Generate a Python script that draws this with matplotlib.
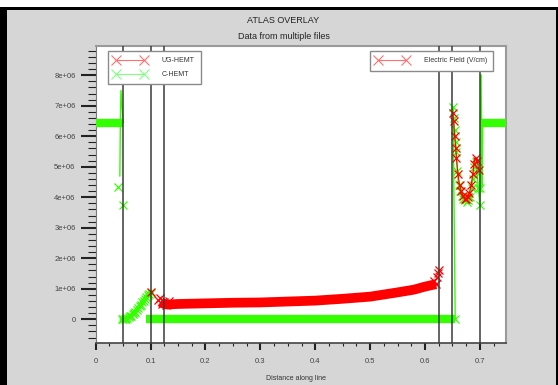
import matplotlib
matplotlib.use('Agg')
import matplotlib.pyplot as plt
from matplotlib.lines import Line2D
from matplotlib.patches import Rectangle
from matplotlib.ticker import MultipleLocator, FixedLocator, FuncFormatter

plt.rcParams['font.family'] = ['Liberation Sans', 'DejaVu Sans']

# ---------------------------------------------------------------------------
# Data (Electric field, V/cm, vs distance along line)
# ---------------------------------------------------------------------------
# region boundaries (black vertical lines)
boundaries = [0.05, 0.1, 0.125, 0.625, 0.65, 0.7]

# C-HEMT (green) -- dense plateaus drawn as bands
c_band1_x = [0.0, 0.01, 0.02, 0.03, 0.04, 0.05]
c_band1_y = [6.45e6, 6.45e6, 6.45e6, 6.45e6, 6.45e6, 6.45e6]
c_drop_x = [0.05, 0.046, 0.045, 0.044]
c_drop_y = [6.45e6, 7.5e6, 6.6e6, 4.7e6]
c_drop_mark_x = [0.041, 0.05]
c_drop_mark_y = [4.33e6, 3.74e6]
c_rise_x = [0.048, 0.05, 0.0525, 0.055, 0.0575, 0.06, 0.0625, 0.065, 0.0675,
            0.07, 0.0725, 0.075, 0.0775, 0.08, 0.0825, 0.085, 0.0875, 0.09,
            0.0925, 0.095, 0.0975, 0.1]
c_rise_y = [0.0, 0.0, 0.01e6, 0.02e6, 0.04e6, 0.06e6, 0.09e6, 0.12e6, 0.16e6,
            0.2e6, 0.25e6, 0.3e6, 0.36e6, 0.42e6, 0.48e6, 0.55e6, 0.61e6,
            0.67e6, 0.73e6, 0.78e6, 0.83e6, 0.87e6]
c_band2_x = [0.092, 0.1, 0.15, 0.2, 0.25, 0.3, 0.35, 0.4, 0.45, 0.5, 0.55,
             0.6, 0.65, 0.655]
c_band2_y = [0.0, 0.0, 0.0, 0.0, 0.0, 0.0, 0.0, 0.0, 0.0, 0.0, 0.0, 0.0, 0.0, 0.0]
c_right_x = [0.655, 0.651, 0.652, 0.654, 0.656, 0.657, 0.659, 0.661, 0.664,
             0.667, 0.67, 0.673, 0.676, 0.679, 0.682, 0.685, 0.687, 0.689,
             0.692, 0.695, 0.697, 0.7, 0.7, 0.702]
c_right_y = [0.0, 6.95e6, 6.6e6, 6.2e6, 5.8e6, 5.5e6, 4.85e6, 4.4e6, 4.2e6,
             4.05e6, 3.95e6, 3.9e6, 3.85e6, 3.9e6, 4.0e6, 4.3e6, 4.6e6, 5.0e6,
             5.15e6, 4.8e6, 4.3e6, 3.75e6, 4.3e6, 8.0e6]
c_band3_x = [0.703, 0.71, 0.72, 0.73, 0.74, 0.75]
c_band3_y = [6.45e6, 6.45e6, 6.45e6, 6.45e6, 6.45e6, 6.45e6]
c_tail_x = [0.702, 0.703, 0.704, 0.705]
c_tail_y = [8.0e6, 6.45e6, 4.3e6, 6.45e6]

# UG-HEMT (red)
u_left_x = [0.1]
u_left_y = [0.88e6]
u_band_x = [0.118, 0.122, 0.13, 0.15, 0.2, 0.25, 0.3, 0.35, 0.4, 0.45, 0.5,
            0.55, 0.58, 0.6, 0.62]
u_band_y = [0.57e6, 0.52e6, 0.48e6, 0.5e6, 0.52e6, 0.54e6, 0.55e6, 0.58e6,
            0.61e6, 0.67e6, 0.74e6, 0.88e6, 0.97e6, 1.07e6, 1.15e6]
u_start_x = [0.114, 0.117, 0.12, 0.124, 0.128, 0.133]
u_start_y = [0.62e6, 0.68e6, 0.5e6, 0.56e6, 0.45e6, 0.6e6]
u_end_x = [0.617, 0.621, 0.624, 0.626, 0.62]
u_end_y = [1.25e6, 1.4e6, 1.5e6, 1.6e6, 1.15e6]
u_right_x = [0.651, 0.652, 0.654, 0.656, 0.657, 0.66, 0.663, 0.666, 0.669,
             0.672, 0.675, 0.678, 0.681, 0.684, 0.687, 0.689, 0.692, 0.695,
             0.698]
u_right_y = [6.75e6, 6.5e6, 6.0e6, 5.6e6, 5.3e6, 4.75e6, 4.4e6, 4.2e6,
             4.05e6, 3.95e6, 3.95e6, 4.0e6, 4.15e6, 4.4e6, 4.75e6, 5.1e6,
             5.3e6, 5.2e6, 4.9e6]

y_ticks = [0, 1e6, 2e6, 3e6, 4e6, 5e6, 6e6, 7e6, 8e6]
x_ticks = [0, 0.1, 0.2, 0.3, 0.4, 0.5, 0.6, 0.7]

RED = '#ff0000'
GREEN = '#33ff00'
BG = '#d6d6d6'

fig = plt.figure(figsize=(5.58, 3.85), dpi=100)
fig.patch.set_facecolor('white')
# black frame + grey panel
fig.patches.append(Rectangle((0, 0), 1, 378 / 385, transform=fig.transFigure,
                             facecolor='black', edgecolor='none', zorder=-3))
fig.patches.append(Rectangle((6.5 / 558, 0), 549.5 / 558, 375 / 385,
                             transform=fig.transFigure, facecolor=BG,
                             edgecolor='none', zorder=-2))

ax = fig.add_axes([95.7 / 558, 1 - 343 / 385, 410.3 / 558, 297.3 / 385])
ax.set_facecolor('white')

band_kw = dict(lw=6.0, solid_capstyle='butt', solid_joinstyle='round')
mk_kw = dict(ls='none', marker='x', ms=6, mew=0.9)

# C-HEMT
ax.plot(c_band1_x, c_band1_y, color=GREEN, zorder=3, **band_kw)
ax.plot(c_drop_x, c_drop_y, color=GREEN, lw=1.0, zorder=3)
ax.plot(c_drop_mark_x, c_drop_mark_y, color=GREEN, zorder=3, **mk_kw)
ax.plot(c_rise_x, c_rise_y, color=GREEN, lw=3.5, zorder=3)
ax.plot(c_rise_x, c_rise_y, color=GREEN, zorder=3, **mk_kw)
ax.plot(c_band2_x, c_band2_y, color=GREEN, zorder=3, **band_kw)
ax.plot(c_band2_x[-1:], c_band2_y[-1:], color=GREEN, zorder=3, **mk_kw)
ax.plot(c_right_x, c_right_y, color=GREEN, lw=1.0, zorder=3)
ax.plot(c_right_x[1:-1], c_right_y[1:-1], color=GREEN, zorder=3, **mk_kw)
ax.plot(c_tail_x, c_tail_y, color=GREEN, lw=1.0, zorder=3)
ax.plot(c_band3_x, c_band3_y, color=GREEN, zorder=3, **band_kw)

# UG-HEMT
ax.plot(u_left_x, u_left_y, color=RED, zorder=4, **mk_kw)
ax.plot(u_band_x, u_band_y, color=RED, zorder=4, lw=7.0,
        solid_capstyle='butt', solid_joinstyle='round')
ax.plot(u_start_x, u_start_y, color=RED, zorder=4, **mk_kw)
ax.plot(u_end_x, u_end_y, color=RED, zorder=4, **mk_kw)
ax.plot(u_right_x, u_right_y, color=RED, lw=0.8, zorder=4)
ax.plot(u_right_x, u_right_y, color=RED, zorder=4, **mk_kw)

for b in boundaries:
    ax.axvline(b, color='#3a3a3a', lw=1.1, zorder=5)

ax.set_xlim(0, 0.7475)
ax.set_ylim(-0.78e6, 8.97e6)

ax.xaxis.set_major_locator(FixedLocator(x_ticks))
ax.xaxis.set_minor_locator(MultipleLocator(0.025))
ax.yaxis.set_major_locator(FixedLocator(y_ticks))
ax.yaxis.set_minor_locator(MultipleLocator(0.2e6))
ax.xaxis.set_major_formatter(FuncFormatter(lambda v, p: f'{v:g}'))
ax.yaxis.set_major_formatter(FuncFormatter(lambda v, p: '0' if v == 0 else f'{v:.0e}'))

ax.tick_params(axis='y', which='major', length=11, width=1.5, pad=3.5,
               labelsize=5.5, colors='#222222', labelcolor='#444444')
ax.tick_params(axis='y', which='minor', length=6, width=0.8, colors='#222222')
ax.tick_params(axis='x', which='major', length=4.8, width=1.5, pad=6,
               labelsize=5.5, colors='#222222', labelcolor='#444444')
ax.tick_params(axis='x', which='minor', length=2.5, width=0.8, colors='#222222')

for s in ('top', 'right'):
    ax.spines[s].set_color('#9a9a9a')
    ax.spines[s].set_linewidth(1.5)
ax.spines['left'].set_color('#7a7a7a')
ax.spines['bottom'].set_color('#444444')
ax.spines['bottom'].set_linewidth(1.2)

# legends
leg_handles = [Line2D([], [], color='#ff7070', lw=0.8, marker='x', ms=7, mew=0.8),
               Line2D([], [], color='#80ff80', lw=0.8, marker='x', ms=7, mew=0.8)]
leg1 = ax.legend(leg_handles, ['UG-HEMT', 'C-HEMT'], loc='upper left',
                 bbox_to_anchor=(12.3 / 410.3, 1 - 5.3 / 297.3), fontsize=5,
                 numpoints=2, handlelength=4.6, handletextpad=2.2,
                 borderpad=0.9, labelspacing=1.0, fancybox=False,
                 framealpha=1, edgecolor='#8a8a8a', borderaxespad=0)
leg1.get_frame().set_linewidth(1.0)
for t in leg1.get_texts():
    t.set_color('#333333')
leg1.set_zorder(10)
ax.add_artist(leg1)

leg2 = ax.legend([Line2D([], [], color='#ff7070', lw=0.8, marker='x', ms=7, mew=0.8)],
                 ['Electric Field (V/cm)'], loc='upper right',
                 bbox_to_anchor=(397.3 / 410.3, 1 - 5.3 / 297.3), fontsize=5,
                 numpoints=2, handlelength=4.6, handletextpad=2.2,
                 borderpad=0.9, fancybox=False, framealpha=1,
                 edgecolor='#8a8a8a', borderaxespad=0)
leg2.get_frame().set_linewidth(1.0)
for t in leg2.get_texts():
    t.set_color('#333333')
leg2.set_zorder(10)

fig.text(283 / 558, 1 - 20.7 / 385, 'ATLAS OVERLAY', ha='center', va='center',
         fontsize=6.5, color='#222222')
fig.text(283.5 / 558, 1 - 36.7 / 385, 'Data from multiple files', ha='center',
         va='center', fontsize=6.5, color='#222222')
fig.text(296 / 558, 1 - 379 / 385, 'Distance along line', ha='center',
         va='center', fontsize=5, color='#333333')

fig.savefig('out.png', dpi=100)
